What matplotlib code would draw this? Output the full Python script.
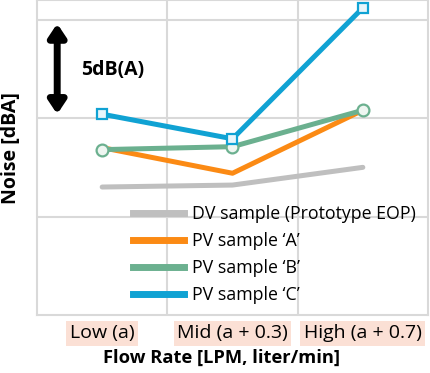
import matplotlib
matplotlib.use('Agg')
import matplotlib.pyplot as plt
from matplotlib.lines import Line2D

# Flow rate categories and noise readings (dB(A), relative scale)
categories = ["Low (a)", "Mid (a + 0.3)", "High (a + 0.7)"]
dv_sample = [56.5, 56.6, 57.5]
pv_a = [58.5, 57.2, 60.4]
pv_b = [58.4, 58.55, 60.4]
pv_c = [60.2, 58.95, 65.6]
series_labels = ['DV sample (Prototype EOP)', 'PV sample \u2018A\u2019',
                 'PV sample \u2018B\u2019', 'PV sample \u2018C\u2019']

grid_col = '#d9d9d9'
colors = ['#bfbfbf', '#fb8a14', '#6bb08f', '#10a2d3']

plt.rcParams['font.family'] = ['Open Sans', 'DejaVu Sans']

fig = plt.figure(figsize=(4.31, 3.73), dpi=100)
ax = fig.add_axes([37 / 431, 58 / 373, 391 / 431, 315 / 373])

x = [i + 0.5 for i in range(len(categories))]
lw = 3.6

ax.plot(x, dv_sample, color=colors[0], lw=lw, solid_capstyle='round')
ax.plot(x, pv_a, color=colors[1], lw=lw)
ax.plot(x, pv_b, color=colors[2], lw=lw, marker='o', ms=8.5, mfc='#eef6f1',
        mec=colors[2], mew=1.6, clip_on=False)
ax.plot(x, pv_c, color=colors[3], lw=lw, marker='s', ms=7.5, mfc='#e8f6fb',
        mec=colors[3], mew=1.6, clip_on=False)

ax.set_xlim(0, 3)
ax.set_ylim(50, 66)
ax.set_xticks([1, 2])
ax.set_yticks([55, 60, 65])
ax.grid(True, color=grid_col, lw=1.5)
ax.set_axisbelow(True)
ax.tick_params(length=0, labelleft=False, labelbottom=False)
for s in ax.spines.values():
    s.set_color(grid_col)
    s.set_linewidth(1.5)

# category labels with shaded boxes
for xi, lab in zip(x, categories):
    ax.text(xi, -0.058, lab, transform=ax.get_xaxis_transform(), ha='center', va='center',
            fontsize=14, bbox=dict(boxstyle='square,pad=0.18', fc='#fbe0d5', ec='none'))

ax.text(0.473, -0.135, 'Flow Rate [LPM, liter/min]', transform=ax.transAxes,
        ha='center', va='center', fontsize=13.2, fontweight='bold')
ax.text(-0.066, 0.53, 'Noise [dBA]', transform=ax.transAxes, rotation=90,
        ha='center', va='center', fontsize=14, fontweight='bold')

# 5 dB scale arrow
ax.annotate('', xy=(0.155, 60.2), xytext=(0.155, 64.8),
            arrowprops=dict(arrowstyle='<|-|>,head_width=0.5,head_length=0.75',
                            color='black', lw=5, shrinkA=0, shrinkB=0))
ax.text(0.34, 62.45, '5dB(A)', ha='left', va='center', fontsize=14, fontweight='bold')

handles = [Line2D([], [], color=c, lw=5) for c in colors]
ax.legend(handles, series_labels, loc='upper left', bbox_to_anchor=(0.245, 0.348),
          frameon=False, fontsize=12.8, handlelength=2.9, handletextpad=0.45,
          labelspacing=0.5, borderaxespad=0, borderpad=0)

fig.savefig('out.png', dpi=100)
